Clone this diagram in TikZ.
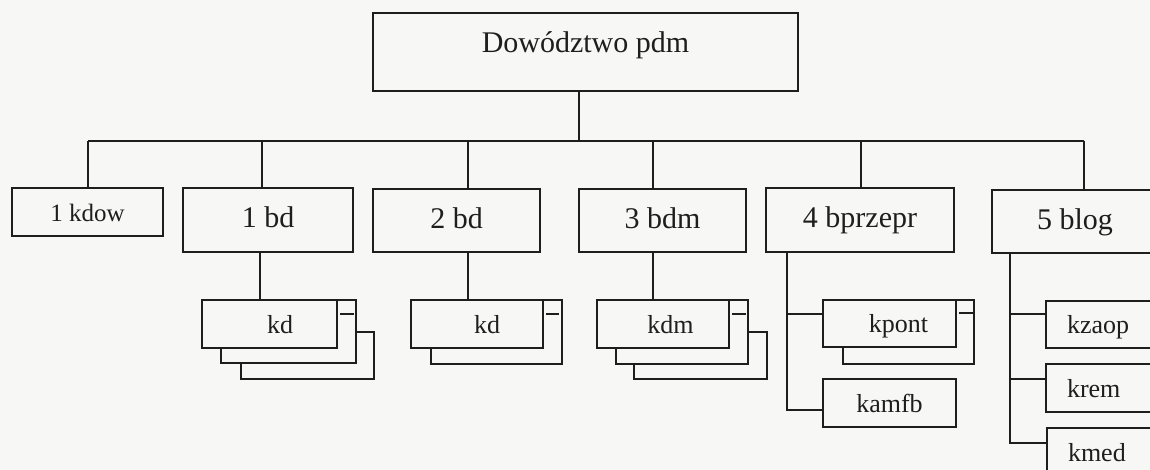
\documentclass[tikz,border=0pt]{standalone}
\usepackage{fontspec}
\setmainfont{Liberation Serif}
\definecolor{bgc}{HTML}{F7F7F5}
\definecolor{ink}{HTML}{1E1E1E}
\begin{document}
\begin{tikzpicture}[x=1pt,y=-1pt,
  line width=1.8pt, draw=ink,
  box/.style={draw=ink, fill=bgc, rectangle, inner sep=0pt, text=ink},
  topbox/.style={box, font=\fontsize{30}{36}\selectfont, text height=16pt, text depth=14pt},
  lvltwo/.style={box, font=\fontsize{30}{36}\selectfont, text height=20pt, text depth=4pt},
  kdowbox/.style={box, font=\fontsize{25}{30}\selectfont, text height=20pt, text depth=0pt},
  lvlthree/.style={box, font=\fontsize{26}{31}\selectfont, text height=20pt, text depth=2pt},
  leftbox/.style={lvlthree, text width=100pt, align=left, inner xsep=21pt},
  conn/.style={draw=ink, line width=1.8pt}
]
\fill[bgc] (0,0) rectangle (1150,470);
\useasboundingbox (0,0) rectangle (1150,470);
\clip (0,0) rectangle (1150,470);

% junction coordinates
\coordinate (j0) at (579,141);
\coordinate (bL) at (88,141);
\coordinate (bR) at (1084,141);
\coordinate (d1) at (88,141);
\coordinate (d2) at (262,141);
\coordinate (d3) at (468,141);
\coordinate (d4) at (653,141);
\coordinate (d5) at (861,141);
\coordinate (d6) at (1084,141);
\coordinate (s1) at (260,276);
\coordinate (s2) at (468,276);
\coordinate (s3) at (653,276);
\coordinate (t4a) at (787,314);
\coordinate (t4b) at (787,410);
\coordinate (t5a) at (1010,314);
\coordinate (t5b) at (1010,379);
\coordinate (t5c) at (1010,443);

% level 1 and 2
\node[topbox, minimum width=425pt, minimum height=78pt] (top) at (585.5,52) {Dowództwo pdm};
\node[kdowbox, minimum width=151pt, minimum height=48pt] (kdow) at (87.5,212) {1 kdow};
\node[lvltwo, minimum width=170pt, minimum height=64pt] (bd1) at (268,220) {1 bd};
\node[lvltwo, minimum width=167pt, minimum height=63pt] (bd2) at (456.5,220.5) {2 bd};
\node[lvltwo, minimum width=167pt, minimum height=63pt] (bdm3) at (662.5,220.5) {3 bdm};
\node[lvltwo, minimum width=188pt, minimum height=64pt] (bprz4) at (860,220) {4 bprzepr};
\node[lvltwo, minimum width=166pt, minimum height=63pt] (blog5) at (1075,221.5) {5 blog};

% connectors from the top
\draw[conn] (top.south -| j0) -- (j0);
\draw[conn] (bL) -- (bR);
\draw[conn] (d1) -- (d1 |- kdow.north);
\draw[conn] (d2) -- (d2 |- bd1.north);
\draw[conn] (d3) -- (d3 |- bd2.north);
\draw[conn] (d4) -- (d4 |- bdm3.north);
\draw[conn] (d5) -- (d5 |- bprz4.north);
\draw[conn] (d6) -- (d6 |- blog5.north);

% stacks under 1 bd
\node[box, minimum width=133pt, minimum height=47pt] (kd1c) at (307.5,355.5) {};
\node[box, minimum width=135pt, minimum height=63pt] (kd1b) at (288.5,331.5) {};
\node[lvlthree, minimum width=135pt, minimum height=48pt] (kd1a) at (269.5,324) {\hspace*{21pt}kd};
\draw[conn] ([xshift=2pt,yshift=-15pt]kd1a.north east) -- ++(14,0);
\draw[conn] (s1 |- bd1.south) -- (s1 |- kd1a.north);

% stacks under 2 bd
\node[box, minimum width=131pt, minimum height=64pt] (kd2b) at (496.5,332) {};
\node[lvlthree, minimum width=132pt, minimum height=48pt] (kd2a) at (477,324) {\hspace*{20pt}kd};
\draw[conn] ([xshift=2pt,yshift=-15pt]kd2a.north east) -- ++(13,0);
\draw[conn] (s2 |- bd2.south) -- (s2 |- kd2a.north);

% stacks under 3 bdm
\node[box, minimum width=133pt, minimum height=47pt] (kdm3c) at (700.5,355.5) {};
\node[box, minimum width=132pt, minimum height=64pt] (kdm3b) at (682,332) {};
\node[lvlthree, minimum width=132pt, minimum height=48pt] (kdm3a) at (663,324) {\hspace*{15pt}kdm};
\draw[conn] ([xshift=2pt,yshift=-15pt]kdm3a.north east) -- ++(14,0);
\draw[conn] (s3 |- bdm3.south) -- (s3 |- kdm3a.north);

% under 4 bprzepr
\node[box, minimum width=131pt, minimum height=64pt] (kpontb) at (908.5,332) {};
\node[lvlthree, minimum width=133pt, minimum height=47pt] (kponta) at (889.5,323.5) {\hspace*{18pt}kpont};
\draw[conn] ([xshift=2pt,yshift=-14pt]kponta.north east) -- ++(14,0);
\node[lvlthree, minimum width=133pt, minimum height=48pt] (kamfb) at (889.5,403) {kamfb};
\draw[conn] (t4a |- bprz4.south) -- (t4b) -- (t4b -| kamfb.west);
\draw[conn] (t4a) -- (t4a -| kponta.west);

% under 5 blog
\node[leftbox, minimum height=47pt] (kzaop) at (1117,324.5) {kzaop};
\node[leftbox, minimum height=48pt] (krem) at (1117,388) {krem};
\node[leftbox, minimum height=48pt] (kmed) at (1118,452) {kmed};
\draw[conn] (t5a |- blog5.south) -- (t5c) -- (t5c -| kmed.west);
\draw[conn] (t5a) -- (t5a -| kzaop.west);
\draw[conn] (t5b) -- (t5b -| krem.west);
\end{tikzpicture}
\end{document}
